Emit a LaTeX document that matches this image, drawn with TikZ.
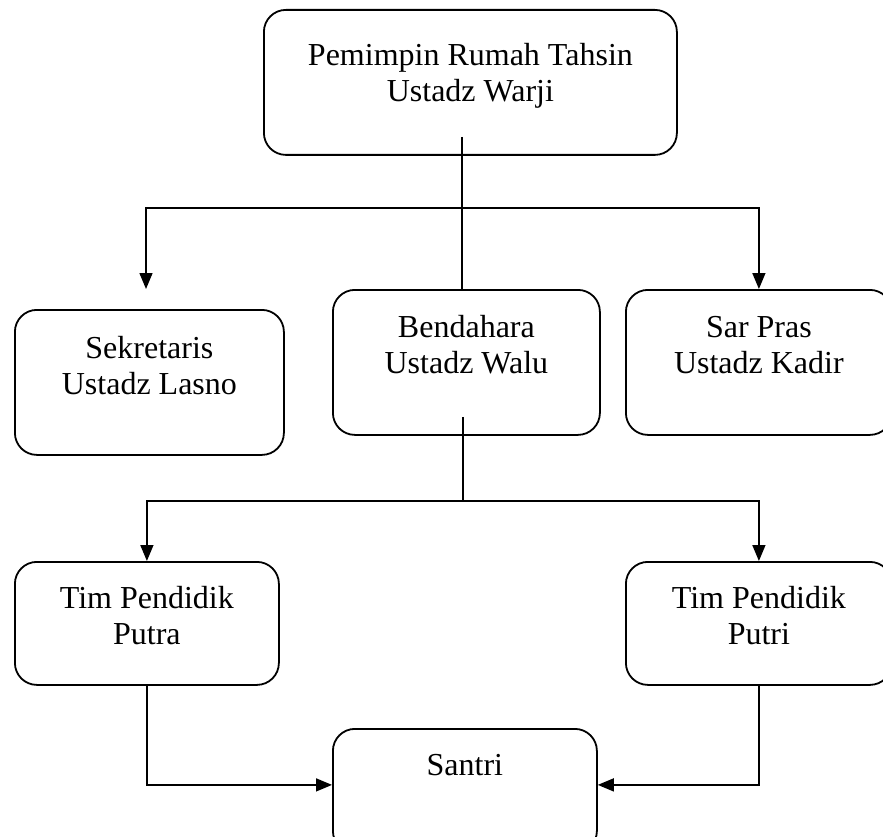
\documentclass[tikz,border=0pt]{standalone}
\usepackage{fontspec}
\setmainfont{Liberation Serif}
\usetikzlibrary{arrows.meta}

\tikzset{
    unit/.style={draw, line width=1.8pt, rounded corners=22pt, inner sep=0pt,
        anchor=north west, font=\fontsize{32pt}{36pt}\selectfont},
    link/.style={line width=1.5pt},
    linkarrow/.style={link, -{Triangle[length=16pt,width=13pt]}}
}
% box text: width, height, first baseline, lines
\newcommand{\unittext}[4]{\parbox[t][#2][t]{#1}{\centering\rule{0pt}{#3}#4}}

\begin{document}
\begin{tikzpicture}[x=1pt,y=-1pt]
    \useasboundingbox (0,0) rectangle (883,837);

    % Units
    \node[unit] (pimpinan) at (263,9) {\unittext{413pt}{145pt}{56pt}{Pemimpin Rumah Tahsin\\Ustadz Warji}};
    \node[unit] (sekretaris) at (14,309) {\unittext{269pt}{145pt}{49pt}{Sekretaris\\Ustadz Lasno}};
    \node[unit] (bendahara) at (332,289) {\unittext{267pt}{145pt}{48pt}{Bendahara\\Ustadz Walu}};
    \node[unit] (sarpras) at (625,289) {\unittext{266pt}{145pt}{48pt}{Sar Pras\\Ustadz Kadir}};
    \node[unit] (putra) at (14,561) {\unittext{264pt}{123pt}{47pt}{Tim Pendidik\\Putra}};
    \node[unit] (putri) at (625,561) {\unittext{266pt}{123pt}{47pt}{Tim Pendidik\\Putri}};
    \node[unit] (santri) at (332,728) {\unittext{264pt}{124pt}{47pt}{Santri}};

    % Split points
    \coordinate (topSplit) at (462,208);
    \coordinate (sekTip) at (146,289);
    \coordinate (midSplit) at (463,501);

    % Top level
    \draw[link] ([yshift=19pt]topSplit |- pimpinan.south) -- (topSplit |- bendahara.north);
    \draw[linkarrow] (topSplit) -| (sekTip);
    \draw[linkarrow] (topSplit) -| (sarpras.north);

    % Bendahara to teams
    \draw[link] ([yshift=19pt]midSplit |- bendahara.south) -- (midSplit);
    \draw[linkarrow] (midSplit) -| (putra.north);
    \draw[linkarrow] (midSplit) -| (putri.north);

    % Teams to santri
    \draw[linkarrow] (putra.south) |- ([yshift=6pt]santri.west);
    \draw[linkarrow] (putri.south) |- ([yshift=6pt]santri.east);
\end{tikzpicture}
\end{document}
